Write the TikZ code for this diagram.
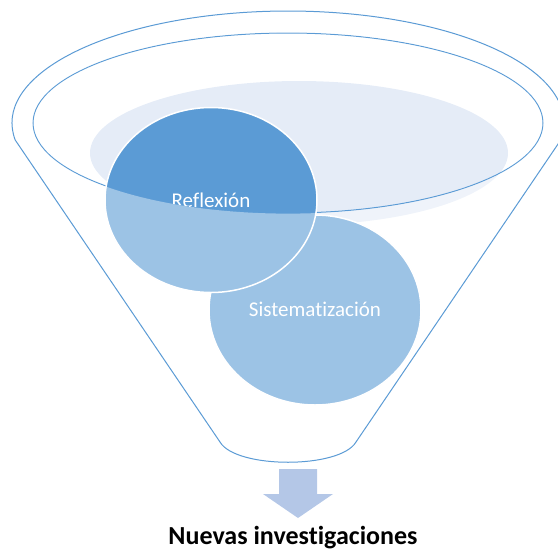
\documentclass[tikz,border=0pt]{standalone}
\usepackage{fontspec}
\setmainfont{Carlito}[Ligatures=NoCommon]
\usepackage{xcolor}
\usetikzlibrary{shapes.geometric,positioning}
\definecolor{rimblue}{RGB}{91,155,213}
\definecolor{paleblue}{RGB}{229,236,247}
\definecolor{arrowblue}{RGB}{180,199,231}

\begin{document}
\begin{tikzpicture}[x=1pt, y=-1pt,
    rim/.style={draw=rimblue, line width=1pt},
    bubble/.style={ellipse, fill=rimblue, draw=white, line width=1.5pt, inner sep=0pt, minimum width=212pt},
    bubbletext/.style={text=white, font=\fontsize{21}{25}\selectfont}]
        \useasboundingbox (0,0) rectangle (558,550);

        % Back of the funnel
        \fill [paleblue] (299,153) ellipse [x radius=209pt, y radius=72pt];
        \draw [rim] (288,123) ellipse [x radius=255pt, y radius=90pt];

        % Circles
        \node [bubble, minimum height=190pt] (sist) at (315,310) {};
        \node [bubble, minimum height=185pt] (refl) at (211,200) {};
        \begin{scope}
            \clip (288,123) ellipse [x radius=255pt, y radius=90pt];
            \node [bubbletext, anchor=base] (refltext) at (211,207) {Reflexión};
        \end{scope}

        % Front of the funnel
        \fill [white, opacity=0.4, even odd rule]
            (15.2,140) arc [start angle=188.73, end angle=-8.73, x radius=276pt, y radius=112pt]
            -- (356,442) .. controls (340,469) and (236,469) .. (220,442) -- cycle
            (288,123) ellipse [x radius=255.6pt, y radius=90.6pt];
        \draw [rim, line join=round]
            (15.2,140) arc [start angle=188.73, end angle=-8.73, x radius=276pt, y radius=112pt]
            -- (356,442) .. controls (340,469) and (236,469) .. (220,442) -- cycle;
        \node [bubbletext] (sisttext) at (315,309) {Sistematización};

        % Output
        \fill [arrowblue] (279,469) -- (317,469) -- (317,494) -- (333,494) -- (298,518)
            -- (263,494) -- (279,494) -- cycle;
        \node [anchor=base, font=\fontsize{26}{30}\selectfont\bfseries] (output) at (293,544) {Nuevas investigaciones};
    \end{tikzpicture}
\end{document}
